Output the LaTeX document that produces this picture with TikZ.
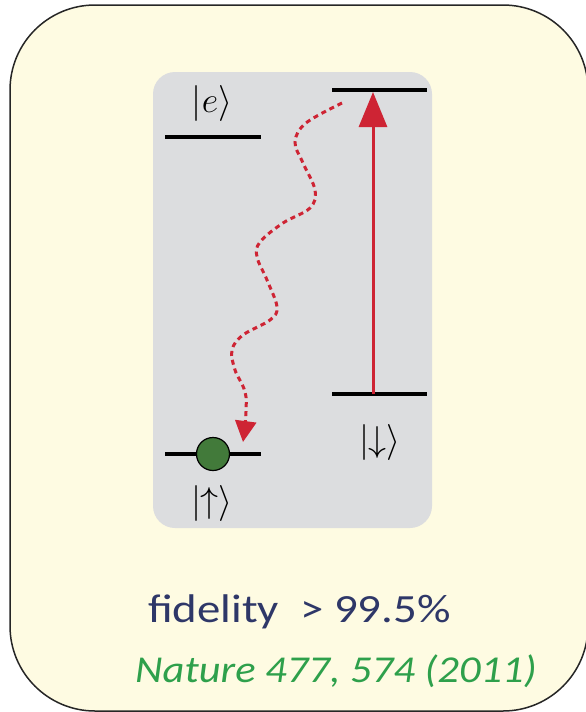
\RequirePackage{fix-cm}
\documentclass[tikz,border=0pt]{standalone}
\usepackage{amsmath, amssymb}
\usepackage{fontspec}
\setmainfont{Carlito}
\usepackage{tikz}
\usetikzlibrary{arrows.meta,positioning,calc}

\definecolor{boxfill}{RGB}{254,251,226}
\definecolor{panelgray}{RGB}{220,221,223}
\definecolor{lasered}{RGB}{206,36,52}
\definecolor{spingreen}{RGB}{66,122,58}
\definecolor{navy}{RGB}{46,55,104}
\definecolor{refgreen}{RGB}{46,160,75}

\begin{document}
\begin{tikzpicture}[
    x=1pt, y=-1pt,
    outerbox/.style={draw=black!85, line width=1.5pt, fill=boxfill, rounded corners=85pt},
    panel/.style={fill=panelgray, rounded corners=22pt},
    lvl/.style={line width=3.5pt},
    ket/.style={font=\fontsize{36}{40}\selectfont, inner sep=0pt},
    spin/.style={circle, draw=black, line width=1.2pt, fill=spingreen, minimum size=33pt, inner sep=0pt},
    pump/.style={-{Triangle[length=35pt,width=28pt]}, line width=3pt, draw=lasered},
    decay/.style={-{Triangle[length=21pt,width=21pt]}, line width=3pt, draw=lasered, dash pattern=on 5pt off 4pt}
]
\useasboundingbox (0,0) rectangle (586,712);

% Background boxes
\draw[outerbox] (10,5) rectangle (588,711);
\fill[panel] (153,72) rectangle (432,528);

% Levels
\coordinate (eL) at (165,137);   \coordinate (eR) at (261,137);
\coordinate (topL) at (332,90);  \coordinate (topR) at (427,90);
\coordinate (dnL) at (332,394);  \coordinate (dnR) at (427,394);
\coordinate (upL) at (165,454);  \coordinate (upR) at (261,454);
\draw[lvl] (eL) -- (eR);
\draw[lvl] (topL) -- (topR);
\draw[lvl] (dnL) -- (dnR);
\draw[lvl] (upL) -- (upR);

% Labels
\node[ket] (ke) at (212,103) {$|e\rangle$};
\node[ket] (kdn) at (380,442) {$|{\downarrow}\rangle$};
\node[ket] (kup) at (212,503) {$|{\uparrow}\rangle$};

% Spin
\node[spin] (atom) at (213,454) {};

% Pump
\coordinate (pumpA) at (373,394);
\coordinate (pumpB) at (373,92);
\draw[pump] (pumpA) -- (pumpB);

% Decay
\coordinate (dstart) at (342,103);
\coordinate (dend) at (243,442);
\draw[decay] plot[smooth, tension=0.6] coordinates {(dstart) (306,123) (295,142) (303,163) (315,190) (310,208) (283,223) (260,242) (257,257) (267,280) (277,307) (270,320) (243,335) (232,350) (235,370) (246,397) (dend)};

% Text
\node[anchor=base west, inner sep=0pt, text=navy, font=\fontsize{40}{44}\selectfont, xscale=1.17] (fid) at (148,622) {fidelity\ \ > 99.5\%};
\node[anchor=base west, inner sep=0pt, text=refgreen, font=\fontsize{38}{42}\selectfont\itshape, xscale=1.12] (ref) at (135,682) {Nature 477, 574 (2011)};

\end{tikzpicture}
\end{document}
